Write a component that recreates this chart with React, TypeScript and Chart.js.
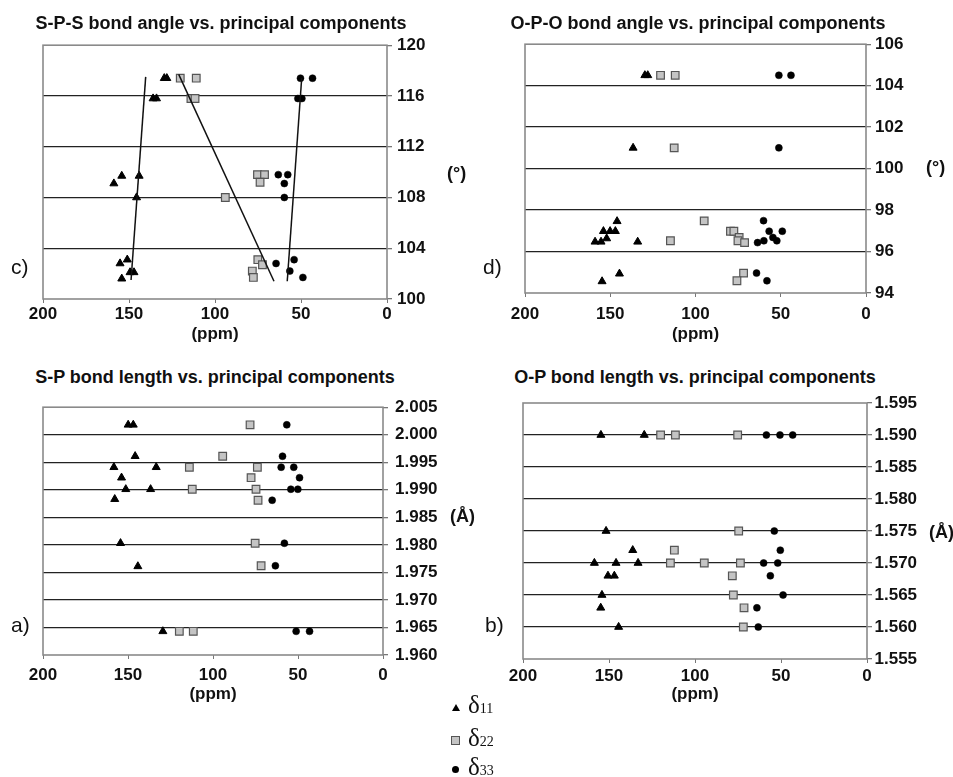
import React, { useEffect, useRef } from "react";
import { Chart, registerables } from "chart.js";

Chart.register(...registerables);

const FONT = "'Liberation Sans', Arial, Helvetica, sans-serif";

// ---------- Panel c) S-P-S bond angle (deg) vs principal components (ppm)
const spsAngleD11Ppm = [129.5, 128.0, 136.0, 134.0, 158.8, 154.2, 144.1, 145.6, 155.2, 151.0, 149.4, 147.1, 154.2];
const spsAngleD11Deg = [117.4, 117.4, 115.8, 115.8, 109.1, 109.7, 109.7, 108.0, 102.8, 103.1, 102.1, 102.1, 101.6];
const spsAngleD22Ppm = [120.2, 110.9, 114.0, 111.6, 94.0, 75.3, 71.2, 73.8, 75.1, 72.4, 78.3, 77.7];
const spsAngleD22Deg = [117.4, 117.4, 115.8, 115.8, 108.0, 109.8, 109.8, 109.2, 103.1, 102.7, 102.2, 101.7];
const spsAngleD33Ppm = [50.3, 43.3, 51.8, 49.5, 63.2, 57.7, 59.7, 59.7, 64.5, 54.0, 56.5, 48.9];
const spsAngleD33Deg = [117.4, 117.4, 115.8, 115.8, 109.8, 109.8, 109.1, 108.0, 102.8, 103.1, 102.2, 101.7];
// least-squares trend lines (end points)
const spsTrendD11Ppm = [140.3, 148.8];
const spsTrendD11Deg = [117.5, 101.5];
const spsTrendD22Ppm = [121.1, 65.7];
const spsTrendD22Deg = [117.7, 101.4];
const spsTrendD33Ppm = [49.6, 58.0];
const spsTrendD33Deg = [117.4, 101.4];

// ---------- Panel d) O-P-O bond angle (deg)
const opoAngleD11Ppm = [129.7, 128.0, 136.6, 146.0, 154.0, 150.1, 147.0, 152.1, 158.9, 155.4, 133.9, 144.6, 154.8];
const opoAngleD11Deg = [104.5, 104.5, 101.0, 97.46, 96.98, 96.98, 96.98, 96.63, 96.47, 96.47, 96.47, 94.93, 94.56];
const opoAngleD22Ppm = [120.5, 111.9, 112.5, 94.9, 79.5, 77.5, 74.4, 75.1, 71.2, 114.7, 71.8, 75.7];
const opoAngleD22Deg = [104.5, 104.5, 101.0, 97.48, 96.98, 96.98, 96.68, 96.52, 96.43, 96.52, 94.96, 94.59];
const opoAngleD33Ppm = [51.1, 44.0, 51.1, 60.1, 56.8, 49.1, 54.6, 52.3, 59.9, 63.6, 64.2, 58.1];
const opoAngleD33Deg = [104.5, 104.5, 101.0, 97.49, 96.98, 96.98, 96.68, 96.52, 96.52, 96.43, 94.96, 94.59];

// ---------- Panel a) S-P bond length (Å)
const spLengthD11Ppm = [149.9, 146.9, 145.8, 158.3, 133.4, 153.8, 151.3, 136.7, 157.8, 154.4, 144.2, 129.5];
const spLengthD11Ang = [2.0018, 2.0018, 1.9961, 1.9941, 1.9941, 1.9922, 1.9901, 1.9901, 1.9883, 1.9803, 1.9761, 1.9643];
const spLengthD22Ppm = [78.2, 94.3, 113.9, 73.9, 77.6, 112.2, 74.7, 73.5, 75.2, 71.7, 119.8, 111.6];
const spLengthD22Ang = [2.0018, 1.9961, 1.9941, 1.9941, 1.9922, 1.9901, 1.9901, 1.9881, 1.9803, 1.9762, 1.9643, 1.9643];
const spLengthD33Ppm = [56.6, 59.1, 59.9, 52.5, 49.1, 54.2, 50.1, 65.2, 58.0, 63.3, 51.1, 43.2];
const spLengthD33Ang = [2.0018, 1.9961, 1.9941, 1.9941, 1.9922, 1.9901, 1.9901, 1.9881, 1.9803, 1.9762, 1.9643, 1.9643];

// ---------- Panel b) O-P bond length (Å)
const opLengthD11Ppm = [154.7, 129.5, 151.7, 136.2, 158.5, 145.9, 133.1, 150.6, 146.9, 154.1, 154.8, 144.4];
const opLengthD11Ang = [1.590, 1.590, 1.575, 1.572, 1.570, 1.570, 1.570, 1.568, 1.568, 1.565, 1.563, 1.560];
const opLengthD22Ppm = [120.0, 111.4, 75.2, 74.6, 112.0, 114.3, 94.6, 73.6, 78.3, 77.7, 71.5, 71.9];
const opLengthD22Ang = [1.590, 1.590, 1.590, 1.575, 1.572, 1.570, 1.570, 1.570, 1.568, 1.565, 1.563, 1.560];
const opLengthD33Ppm = [58.5, 50.6, 43.2, 53.9, 50.4, 60.1, 51.9, 56.2, 48.8, 64.0, 63.2];
const opLengthD33Ang = [1.590, 1.590, 1.590, 1.575, 1.572, 1.570, 1.570, 1.568, 1.565, 1.563, 1.560];

// axis ranges
const ppmMin = 0;
const ppmMax = 200;
const ppmStep = 50;

const titles = {
  c: "S-P-S bond angle vs. principal components",
  d: "O-P-O bond angle vs. principal components",
  a: "S-P bond length vs. principal components",
  b: "O-P bond length vs. principal components",
};

type Series = { ppm: number[]; val: number[] };
type PanelSpec = {
  key: string;
  box: [number, number, number, number]; // canvas left, top, width, height
  area: [number, number, number, number]; // plot left, right, top, bottom (page px)
  yMin: number;
  yMax: number;
  yStep: number;
  decimals: number;
  xPad: number;
  yPad: number;
  d11: Series;
  d22: Series;
  d33: Series;
  trends?: Series[];
};

const panels: PanelSpec[] = [
  {
    key: "c",
    box: [0, 30, 470, 315],
    area: [43, 387, 43, 299],
    yMin: 100, yMax: 120, yStep: 4, decimals: 0,
    xPad: 1, yPad: 5,
    d11: { ppm: spsAngleD11Ppm, val: spsAngleD11Deg },
    d22: { ppm: spsAngleD22Ppm, val: spsAngleD22Deg },
    d33: { ppm: spsAngleD33Ppm, val: spsAngleD33Deg },
    trends: [
      { ppm: spsTrendD11Ppm, val: spsTrendD11Deg },
      { ppm: spsTrendD22Ppm, val: spsTrendD22Deg },
      { ppm: spsTrendD33Ppm, val: spsTrendD33Deg },
    ],
  },
  {
    key: "d",
    box: [470, 30, 483, 315],
    area: [525, 866, 43, 293],
    yMin: 94, yMax: 106, yStep: 2, decimals: 0,
    xPad: 7, yPad: 4,
    d11: { ppm: opoAngleD11Ppm, val: opoAngleD11Deg },
    d22: { ppm: opoAngleD22Ppm, val: opoAngleD22Deg },
    d33: { ppm: opoAngleD33Ppm, val: opoAngleD33Deg },
  },
  {
    key: "a",
    box: [0, 390, 470, 315],
    area: [43, 383, 403, 655],
    yMin: 1.96, yMax: 2.005, yStep: 0.005, decimals: 3,
    xPad: 6, yPad: 7,
    d11: { ppm: spLengthD11Ppm, val: spLengthD11Ang },
    d22: { ppm: spLengthD22Ppm, val: spLengthD22Ang },
    d33: { ppm: spLengthD33Ppm, val: spLengthD33Ang },
  },
  {
    key: "b",
    box: [470, 390, 483, 315],
    area: [523, 867, 403, 659],
    yMin: 1.555, yMax: 1.595, yStep: 0.005, decimals: 3,
    xPad: 3.5, yPad: 2.5,
    d11: { ppm: opLengthD11Ppm, val: opLengthD11Ang },
    d22: { ppm: opLengthD22Ppm, val: opLengthD22Ang },
    d33: { ppm: opLengthD33Ppm, val: opLengthD33Ang },
  },
];

const zip = (s: Series) => s.ppm.map((x, i) => ({ x, y: s.val[i] }));

const framePlugin = {
  id: "frame",
  beforeDatasetsDraw(chart: any) {
    const a = chart.chartArea;
    const c = chart.ctx;
    c.save();
    c.strokeStyle = "#8a8a8a";
    c.lineWidth = 1.6;
    c.strokeRect(a.left, a.top, a.right - a.left, a.bottom - a.top);
    c.restore();
  },
};

function Panel({ spec }: { spec: PanelSpec }) {
  const ref = useRef<HTMLCanvasElement | null>(null);
  useEffect(() => {
    if (!ref.current) return;
    const [cl, ct, cw, ch] = spec.box;
    const [L, R, T, B] = spec.area;
    const datasets: any[] = [];
    (spec.trends || []).forEach((t) =>
      datasets.push({
        data: zip(t),
        showLine: true,
        borderColor: "#111",
        borderWidth: 1.5,
        pointRadius: 0,
        fill: false,
      })
    );
    datasets.push({
      data: zip(spec.d11),
      pointStyle: "triangle",
      pointRadius: 4.6,
      backgroundColor: "#000",
      borderColor: "#000",
      borderWidth: 1,
    });
    datasets.push({
      data: zip(spec.d22),
      pointStyle: "rect",
      pointRadius: 5.4,
      backgroundColor: "#c4c4c4",
      borderColor: "#555",
      borderWidth: 1.2,
    });
    datasets.push({
      data: zip(spec.d33),
      pointStyle: "circle",
      pointRadius: 3.5,
      backgroundColor: "#000",
      borderColor: "#000",
      borderWidth: 0.5,
    });
    const tickFont = { family: FONT, size: 17, weight: "bold" as const };
    const yMin = spec.yMin;
    const yMax = spec.yMax;
    const chart = new Chart(ref.current, {
      type: "scatter",
      data: { datasets },
      options: {
        responsive: false,
        animation: false,
        devicePixelRatio: 1,
        layout: { padding: { left: L - cl, top: T - ct, right: 0, bottom: 0 } },
        plugins: {
          legend: { display: false },
          tooltip: { enabled: false },
          title: { display: false },
        },
        scales: {
          x: {
            type: "linear",
            position: "bottom",
            min: ppmMin,
            max: ppmMax,
            reverse: true,
            ticks: {
              stepSize: ppmStep,
              font: tickFont,
              color: "#111",
              padding: spec.xPad,
              maxRotation: 0,
            },
            grid: {
              drawOnChartArea: false,
              drawTicks: true,
              tickLength: 4,
              tickColor: "#777",
            },
            border: { display: false },
            title: {
              display: true,
              text: "(ppm)",
              font: { family: FONT, size: 17, weight: "bold" },
              color: "#111",
              padding: { top: 1, bottom: 0 },
            },
            afterFit: (s: any) => {
              s.height = ct + ch - B;
            },
          } as any,
          y: {
            type: "linear",
            position: "right",
            min: yMin,
            max: yMax,
            ticks: {
              stepSize: spec.yStep,
              font: tickFont,
              color: "#111",
              padding: spec.yPad,
              callback: (v: any) => Number(v).toFixed(spec.decimals),
            },
            grid: {
              color: (ctx: any) => {
                const v = ctx.tick ? ctx.tick.value : NaN;
                if (Math.abs(v - yMin) < 1e-9 || Math.abs(v - yMax) < 1e-9) return "rgba(0,0,0,0)";
                return "#222";
              },
              lineWidth: 1.3,
              drawTicks: true,
              tickLength: 5,
              tickColor: "#777",
            },
            border: { display: false },
            afterFit: (s: any) => {
              s.width = cl + cw - R;
            },
          } as any,
        },
      },
      plugins: [framePlugin],
    });
    return () => chart.destroy();
  }, [spec]);
  const [cl, ct, cw, ch] = spec.box;
  return (
    <canvas
      ref={ref}
      width={cw}
      height={ch}
      style={{ position: "absolute", left: cl, top: ct, width: cw, height: ch, display: "block" }}
    />
  );
}

const textBase: React.CSSProperties = {
  position: "absolute",
  fontFamily: FONT,
  color: "#111",
  whiteSpace: "nowrap",
  lineHeight: "20px",
  height: 20,
};

function Title({ text, cx, cy }: { text: string; cx: number; cy: number }) {
  return (
    <div style={{ ...textBase, left: cx, top: cy - 10, transform: "translateX(-50%)", fontWeight: "bold", fontSize: 18 }}>
      {text}
    </div>
  );
}

function Label({ text, x, cy, bold, size }: { text: string; x: number; cy: number; bold?: boolean; size: number }) {
  return (
    <div style={{ ...textBase, left: x, top: cy - 10, fontWeight: bold ? "bold" : "normal", fontSize: size }}>
      {text}
    </div>
  );
}

const legendItems = [
  { sym: "triangle", sub: "11" },
  { sym: "square", sub: "22" },
  { sym: "circle", sub: "33" },
];

function Symbol({ kind }: { kind: string }) {
  if (kind === "triangle")
    return (
      <div
        style={{
          width: 0,
          height: 0,
          borderLeft: "4px solid transparent",
          borderRight: "4px solid transparent",
          borderBottom: "7px solid #000",
        }}
      />
    );
  if (kind === "square")
    return <div style={{ width: 7, height: 7, background: "#c4c4c4", border: "1px solid #555" }} />;
  return <div style={{ width: 7, height: 7, background: "#000", borderRadius: "50%" }} />;
}

function Legend() {
  const ys = [707, 740, 769];
  return (
    <>
      {legendItems.map((it, i) => (
        <div
          key={it.sub}
          style={{ position: "absolute", left: 450, top: ys[i] - 15, height: 30, display: "flex", alignItems: "center" }}
        >
          <div style={{ width: 11, display: "flex", justifyContent: "center" }}>
            <Symbol kind={it.sym} />
          </div>
          <div
            style={{
              marginLeft: 7,
              fontFamily: "'Liberation Serif', 'Times New Roman', serif",
              fontSize: 25,
              lineHeight: "30px",
              color: "#111",
            }}
          >
            δ<span style={{ fontSize: 14 }}>{it.sub}</span>
          </div>
        </div>
      ))}
    </>
  );
}

export default function App() {
  return (
    <div style={{ position: "absolute", left: 0, top: 0, width: 953, height: 777, background: "#fff", overflow: "hidden" }}>
      {panels.map((p) => (
        <Panel key={p.key} spec={p} />
      ))}
      <Title text={titles.c} cx={221} cy={23} />
      <Title text={titles.d} cx={698} cy={23} />
      <Title text={titles.a} cx={215} cy={377} />
      <Title text={titles.b} cx={695} cy={377} />
      <Label text="c)" x={11} cy={267} size={21} />
      <Label text="d)" x={483} cy={267} size={21} />
      <Label text="a)" x={11} cy={625} size={21} />
      <Label text="b)" x={485} cy={625} size={21} />
      <Label text="(°)" x={447} cy={173} size={18} bold />
      <Label text="(°)" x={926} cy={167} size={18} bold />
      <Label text="(Å)" x={450} cy={516} size={18} bold />
      <Label text="(Å)" x={929} cy={532} size={18} bold />
      <Legend />
    </div>
  );
}
